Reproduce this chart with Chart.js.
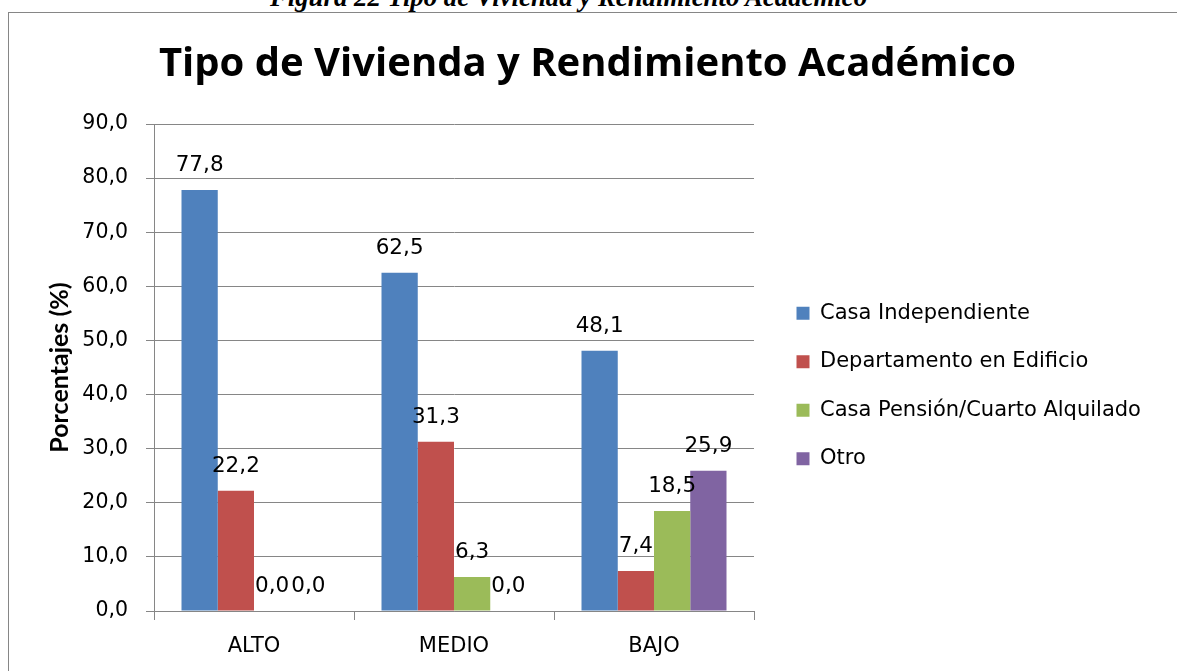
<!DOCTYPE html>
<html>
<head>
<meta charset="utf-8">
<script src="https://cdn.jsdelivr.net/npm/chart.js@4.4.0/dist/chart.umd.min.js"></script>
<style>
html, body { margin: 0; padding: 0; background: #fff; overflow: hidden; width: 1177px; height: 671px; }
#caption { position: absolute; left: 0; top: -16px; width: 1137px; text-align: center;
  font: italic bold 26.8px/26px "Liberation Serif", serif; white-space: nowrap; }
#frame { position: absolute; left: 8px; top: 12px; width: 1300px; height: 900px;
  border: 1px solid #868686; box-sizing: border-box; }
#box { position: absolute; left: 9px; top: 13px; width: 1168px; height: 746px; }
</style>
</head>
<body>
<div id="caption">Figura 22 Tipo de Vivienda y Rendimiento Académico</div>
<div id="frame"></div>
<div id="box"><canvas id="chart"></canvas></div>
<script>
// categorias y series
const categories = ['ALTO', 'MEDIO', 'BAJO'];
const seriesNames = ['Casa Independiente', 'Departamento en Edificio', 'Casa Pensión/Cuarto Alquilado', 'Otro'];
const casaIndependiente = [77.8, 62.5, 48.1];
const departamento = [22.2, 31.3, 7.4];
const casaPension = [0.0, 6.3, 18.5];
const otro = [0.0, 0.0, 25.9];
const yTicks = { min: 0, max: 90, step: 10 };

const colors = ['#4F81BD', '#C0504D', '#9BBB59', '#8064A2'];
const gridColor = '#868686';
const fmt = v => Number(v).toFixed(1).replace('.', ',');

Chart.defaults.font.family = '"DejaVu Sans", sans-serif';
Chart.defaults.color = '#000';

// medidas del layout (px dentro del canvas)
const canvasW = 1168;
const plotLeft = 145, plotRight = 745;
const legendFont = 21, legendBox = 13, legendPad = 27.5, legendLeft = 760;

const mctx = document.createElement('canvas').getContext('2d');
mctx.font = legendFont + 'px "DejaVu Sans"';
const longest = Math.max(...seriesNames.map(s => mctx.measureText(s).width));
const legendW = legendPad + legendBox + legendFont / 2 + longest + 1;
const padRight = canvasW - legendLeft - legendW - 9;
const padLeft = Math.max(0, padRight - 11);

const valueLabels = {
  id: 'valueLabels',
  afterDatasetsDraw(chart) {
    const ctx = chart.ctx;
    ctx.save();
    ctx.font = '21.5px "DejaVu Sans"';
    ctx.fillStyle = '#000';
    ctx.textAlign = 'center';
    ctx.textBaseline = 'alphabetic';
    chart.data.datasets.forEach((ds, i) => {
      chart.getDatasetMeta(i).data.forEach((bar, j) => {
        ctx.fillText(fmt(ds.data[j]), bar.x, bar.y - 19);
      });
    });
    ctx.restore();
  }
};

const seriesData = [casaIndependiente, departamento, casaPension, otro];

const config = {
  type: 'bar',
  data: {
    labels: categories,
    datasets: seriesNames.map((name, i) => ({
      label: name,
      data: seriesData[i],
      backgroundColor: colors[i],
      borderWidth: 0,
      categoryPercentage: 0.725,
      barPercentage: 1.0
    }))
  },
  options: {
    responsive: true,
    maintainAspectRatio: false,
    animation: false,
    layout: { padding: { left: padLeft, right: padRight, top: 0, bottom: 0 } },
    plugins: {
      title: {
        display: true,
        text: 'Tipo de Vivienda y Rendimiento Académico',
        font: { family: '"Open Sans"', weight: 'bold', size: 40 },
        color: '#000',
        padding: { top: 27.5, bottom: 35.5 }
      },
      legend: {
        position: 'right',
        align: 'center',
        maxWidth: 1000,
        labels: {
          boxWidth: legendBox,
          boxHeight: legendBox,
          padding: legendPad,
          font: { size: legendFont },
          color: '#000'
        }
      },
      tooltip: { enabled: false }
    },
    scales: {
      x: {
        grid: { drawOnChartArea: false, tickLength: 9, color: gridColor },
        border: { color: gridColor },
        ticks: { font: { size: 21 }, padding: 14, color: '#000' },
        afterFit(s) { s.height = 148; }
      },
      y: {
        min: yTicks.min,
        max: yTicks.max,
        ticks: { stepSize: yTicks.step, callback: v => fmt(v), font: { size: 20.5 }, padding: 18, color: '#000' },
        grid: { color: gridColor, tickLength: 8 },
        border: { color: gridColor },
        title: {
          display: true,
          text: 'Porcentajes (%)',
          font: { family: 'Lato', weight: 'bold', size: 25 },
          color: '#000',
          padding: { top: Math.max(0, 36 - padLeft), bottom: 0 }
        },
        afterFit(s) { s.width = plotLeft - padLeft; }
      },
      spacer: {
        type: 'linear',
        position: 'right',
        display: true,
        ticks: { display: false },
        grid: { display: false },
        border: { display: false },
        afterFit(s) { s.width = legendLeft - plotRight; }
      }
    }
  },
  plugins: [valueLabels]
};

new Chart(document.getElementById('chart').getContext('2d'), config);
</script>
</body>
</html>
